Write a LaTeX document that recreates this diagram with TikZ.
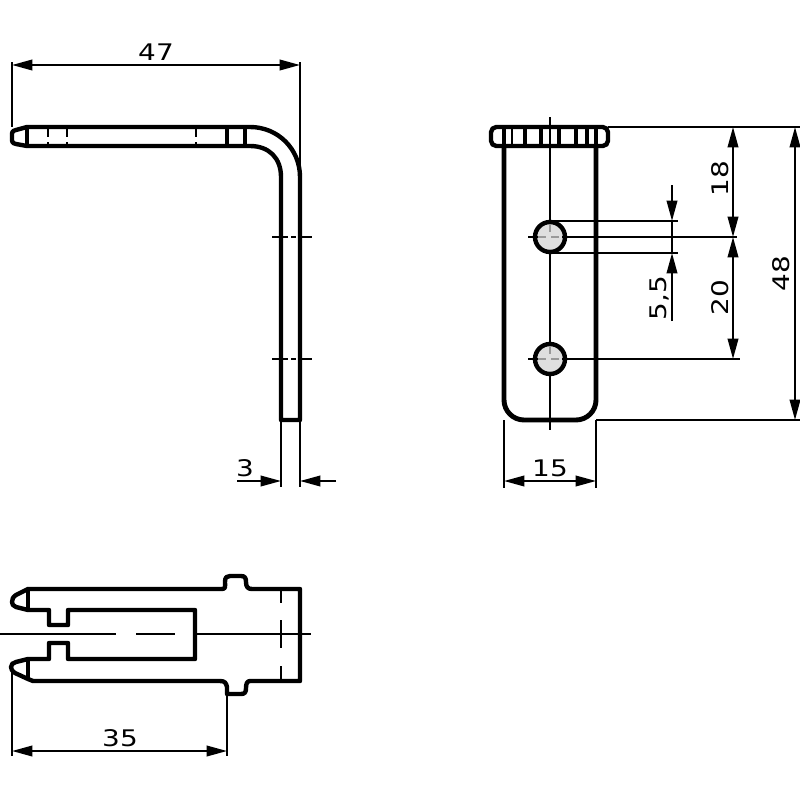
\documentclass[tikz,border=0pt]{standalone}
\usepackage{fontspec}
\setmainfont[LetterSpace=2,FakeStretch=1.22]{DejaVu Sans}
\usetikzlibrary{arrows.meta}
\tikzset{
  outline/.style={line width=1.25pt},
  thinline/.style={line width=.6pt},
  hidden/.style={line width=.6pt,dash pattern=on 2.2pt off 1.6pt},
  dimlabel/.style={font=\fontsize{6.5}{7}\selectfont,inner sep=0pt},
}
\begin{document}
\begin{tikzpicture}[x=.01cm, y=-.01cm, line join=round, >={Triangle[length=5.8pt,width=3pt]}]
    \useasboundingbox (0,0) rectangle (800,800);
    % side view
    \draw[outline] (27,127)--(16,130)..controls (12,131) and (12,132)..(12,136)
        --(12,138)..controls (12,142) and (12,143)..(16,144)--(27,146)
        --(250,146)..controls (269,146) and (281,158)..(281,177)--(281,420)--(300,420)
        --(300,177)..controls (300,149) and (278,127)..(250,127)--cycle;
    \draw[outline] (27,127)--(27,146);
    \foreach \x in {227,245}
    \draw[outline] (\x,127)--(\x,146);
    \foreach \x in {48,67,196}
    \draw[hidden] (\x,129)--(\x,145);
    \foreach \y in {237,359}
    \draw[thinline] (272,\y)--(288,\y) (291,\y)--(296,\y) (299,\y)--(312,\y);
    \draw[thinline] (12,62)--(12,127) (300,62)--(300,175);
    \draw[thinline,<->] (12,65)--(300,65);
    \node[dimlabel] (lenTop) at (156,52) {47};
    \draw[thinline] (281,420)--(281,487) (300,420)--(300,487);
    \draw[thinline,->] (237,481)--(281,481);
    \draw[thinline,->] (336,481)--(300,481);
    \node[dimlabel] (thick) at (245,468) {3};
    % front view
    \draw[line width=1.4pt] (504,146)[rounded corners=5.7pt]--(504,420)--(596,420)[sharp corners]--(596,146);
    \draw[outline,rounded corners=1.5pt] (491,127) rectangle (608,146);
    \foreach \x in {504,525,541,559,576,587,596}
    \draw[outline] (\x,127)--(\x,146);
    \draw[thinline] (512,127)--(512,146);
    \draw[thinline] (550,117)--(550,222) (550,252)--(550,344) (550,374)--(550,430);
    \draw[outline,fill=gray!25] (550,237) circle[radius=15] (550,359) circle[radius=15];
    \foreach \y in {237,359}{
      \draw[thinline] (528,\y)--(538,\y) (562,\y)--(566,\y);
      \draw[hidden,gray!80!white] (538,\y)--(562,\y);
      \draw[hidden,gray!80!white] (550,\y-13)--(550,\y);
    }
    \draw[thinline] (566,237)--(737,237) (566,359)--(740,359);
    \draw[thinline] (550,221)--(678,221) (550,253)--(678,253);
    \draw[thinline] (608,127)--(800,127) (596,420)--(800,420);
    \draw[thinline] (672,221)--(672,253);
    \draw[thinline,->] (672,185)--(672,221);
    \draw[thinline,->] (672,321)--(672,253);
    \node[dimlabel,rotate=90] (holeDia) at (659,298) {5,5};
    \draw[thinline,<->] (733,127)--(733,237);
    \draw[thinline,<->] (733,237)--(733,359);
    \node[dimlabel,rotate=90] (upper) at (720,179) {18};
    \node[dimlabel,rotate=90] (pitch) at (720,298) {20};
    \draw[thinline,<->] (795,127)--(795,420);
    \node[dimlabel,rotate=90] (height) at (781,274) {48};
    \draw[thinline] (504,420)--(504,488) (596,420)--(596,488);
    \draw[thinline,<->] (504,481)--(596,481);
    \node[dimlabel] (width) at (550,468) {15};
    % top view
    \draw[outline] (28,589)--(222,589)..controls (226,589) and (225,586)..(225,582)
        ..controls (225,577) and (227,576)..(230,576)--(241,576)
        ..controls (245,576) and (246,578)..(246,582)..controls (246,587) and (248,589)..(252,589)
        --(300,589)--(300,681)--(250,681)..controls (247,681) and (246,684)..(246,688)
        ..controls (246,692) and (245,694)..(241,694)--(227,694)--(227,687)
        ..controls (226,683) and (225,681)..(220,681)--(33,681)--(28,679)--(15,673)
        ..controls (12,671) and (11,669)..(11,667)..controls (11,664) and (13,663)..(16,662)
        --(28,659)--(49,659)--(49,643)--(68,643)--(68,659)--(195,659)--(195,610)
        --(68,610)--(68,625)--(49,625)--(49,610)--(28,610)--(16,607)
        ..controls (13,606) and (12,604)..(12,602)..controls (12,599) and (13,597)..(16,595)--cycle;
    \draw[outline] (28,589)--(28,610) (28,659)--(28,680);
    \draw[thinline] (0,634)--(116,634) (136,634)--(175,634) (197,634)--(311,634);
    \draw[thinline] (281,589)--(281,603) (281,620)--(281,648) (281,666)--(281,681);
    \draw[thinline] (12,667)--(12,756) (227,694)--(227,756);
    \draw[thinline,<->] (12,751)--(227,751);
    \node[dimlabel] (reach) at (120,738) {35};
\end{tikzpicture}
\end{document}
